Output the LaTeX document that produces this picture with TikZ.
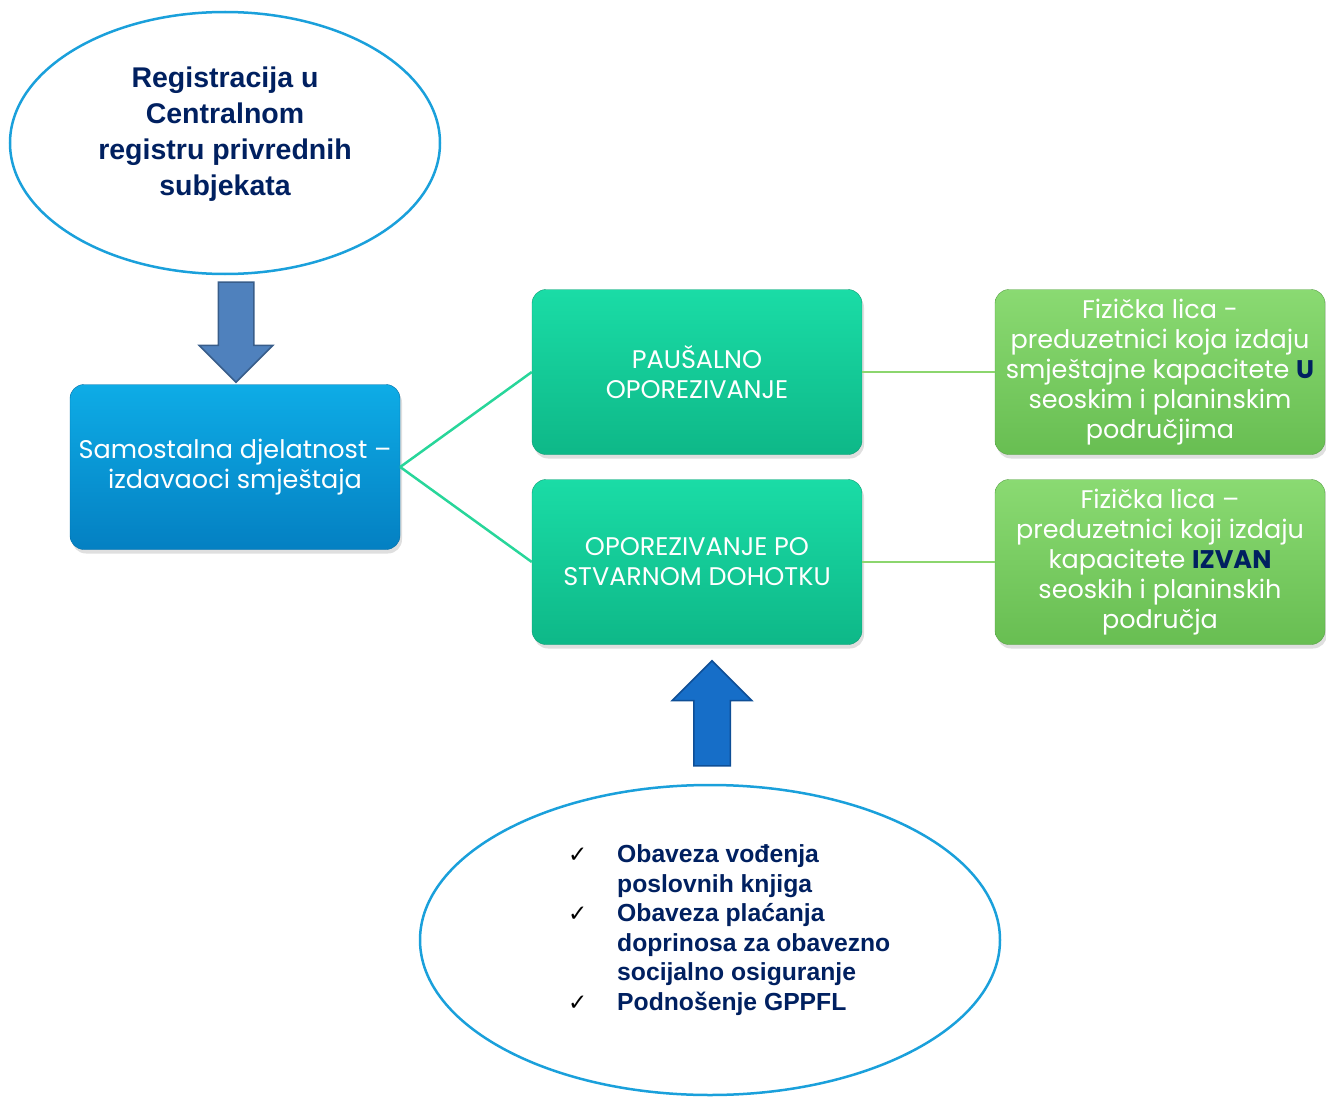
\documentclass[tikz,border=0pt]{standalone}
\usepackage{fontspec}
\setmainfont{Liberation Sans}
\newfontfamily\gothic{Poppins}
\newfontfamily\symb{DejaVu Sans}
\usetikzlibrary{shapes.geometric,shapes.arrows,shadows}
\definecolor{navy}{RGB}{0,32,96}
\definecolor{ringblue}{RGB}{26,160,219}
\definecolor{boxblueA}{RGB}{14,172,230}
\definecolor{boxblueB}{RGB}{4,128,194}
\definecolor{tealA}{RGB}{26,220,166}
\definecolor{tealB}{RGB}{14,184,136}
\definecolor{leafA}{RGB}{138,218,114}
\definecolor{leafB}{RGB}{104,190,82}
\definecolor{linkteal}{RGB}{40,214,154}
\definecolor{linkgreen}{RGB}{140,214,110}
\definecolor{arrowA}{RGB}{79,129,189}
\definecolor{arrowAedge}{RGB}{56,93,138}
\definecolor{arrowB}{RGB}{22,110,200}
\definecolor{arrowBedge}{RGB}{14,78,150}
\newcommand\hi[1]{{\bfseries\color{navy}#1}}
\newcommand\tick{\makebox[49pt][l]{\symb\fontsize{23}{23}\selectfont\color{black}✓}}
\newcommand\gap{\hspace*{49pt}}
\tikzset{
  bubble/.style={ellipse, draw=ringblue, line width=2.5pt, fill=white, inner sep=0pt},
  tile/.style={rounded corners=14pt, minimum width=330pt, minimum height=165pt,
    inner sep=0pt, align=center, text=white, font=\gothic\fontsize{25.5}{30}\selectfont,
    drop shadow={opacity=0.25, shadow xshift=2pt, shadow yshift=-4pt}},
  bluetile/.style={tile, top color=boxblueA, bottom color=boxblueB, draw=boxblueB!85!black},
  tealtile/.style={tile, top color=tealA, bottom color=tealB, draw=tealB!85!black},
  leaftile/.style={tile, top color=leafA, bottom color=leafB, draw=leafB!85!black},
  blockarrow/.style={single arrow, line width=1.5pt, anchor=tip},
  tealink/.style={draw=linkteal, line width=2.5pt},
  leaflink/.style={draw=linkgreen, line width=2.5pt}
}
\begin{document}
\begin{tikzpicture}[x=1pt, y=1pt]
            \useasboundingbox (0,0) rectangle (1326,-1097);
            \node [bubble, minimum width=430pt, minimum height=262pt] (reg) at (225,-143) {};
            \node [text=navy, align=center, font=\bfseries\fontsize{28.5}{36}\selectfont] (regtext) at ([yshift=9pt]reg.center) {Registracija u\\Centralnom\\registru privrednih\\subjekata};
            \node [bluetile] (solo) at (235,-467) {Samostalna djelatnost –\\izdavaoci smještaja};
            \node [tealtile] (paus) at (697,-372) {PAUŠALNO\\OPOREZIVANJE};
            \node [tealtile] (stvar) at (697,-562) {OPOREZIVANJE PO\\STVARNOM DOHOTKU};
            \node [leaftile] (selo) at (1160,-372) {Fizička lica -\\preduzetnici koja izdaju\\smještajne kapacitete \hi{U}\\seoskim i planinskim\\područjima};
            \node [leaftile] (grad) at (1160,-562) {Fizička lica –\\preduzetnici koji izdaju\\kapacitete \hi{IZVAN}\\seoskih i planinskih\\područja};
            \draw [tealink] (solo.east) -- (paus.west);
            \draw [tealink] (solo.east) -- (stvar.west);
            \draw [leaflink] (paus.east) -- (selo.west);
            \draw [leaflink] (stvar.east) -- (grad.west);
            \node [blockarrow, rotate=-90, inner sep=17pt, minimum height=100pt, single arrow head extend=19pt, fill=arrowA, draw=arrowAedge] (regarrow) at ([xshift=1pt,yshift=1pt]solo.north) {};
            \node [blockarrow, rotate=90, inner sep=17.5pt, minimum height=105pt, single arrow head extend=21.5pt, fill=arrowB, draw=arrowBedge] (taxarrow) at ([xshift=15pt,yshift=-15pt]stvar.south) {};
            \node [bubble, minimum width=580pt, minimum height=310pt] (duty) at (710,-940) {};
            \node [anchor=west, align=left, inner sep=0pt, text=navy, font=\bfseries\fontsize{24.7}{29.5}\selectfont] (dutytext) at (568,-930) {\tick Obaveza vođenja\\
              \gap poslovnih knjiga\\
              \tick Obaveza plaćanja\\
              \gap doprinosa za obavezno\\
              \gap socijalno osiguranje\\
              \tick Podnošenje GPPFL};
        \end{tikzpicture}
\end{document}
